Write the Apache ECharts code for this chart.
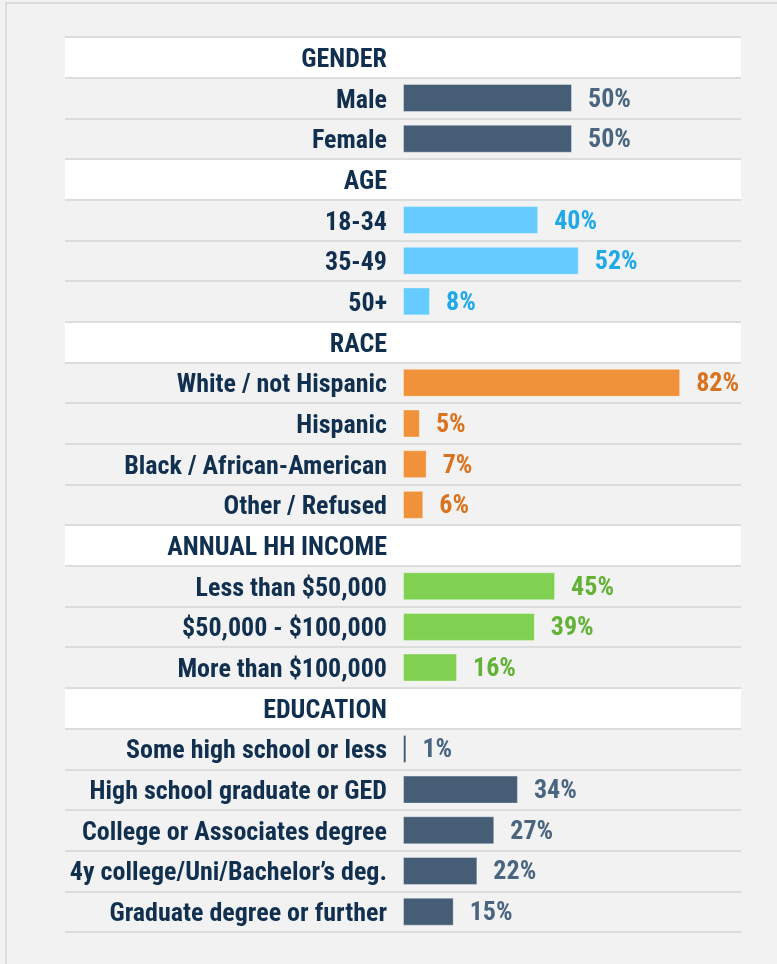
<!DOCTYPE html>
<html>
<head>
<meta charset="utf-8">
<script src="https://cdn.jsdelivr.net/npm/echarts@6/dist/echarts.min.js"></script>
<style>
  html, body { margin: 0; padding: 0; background: #f2f2f2; }
  #frame { position: absolute; left: 5px; top: 2px; width: 772px; height: 962px;
           border-top: 2px solid #dcdcdc; border-left: 2px solid #dcdcdc; box-sizing: border-box; }
  #chart { position: absolute; left: 0; top: 0; width: 777px; height: 964px; }
</style>
</head>
<body>
<div id="frame"></div>
<div id="chart"></div>
<script>
// section headers and their rows
const sections = ['GENDER', 'AGE', 'RACE', 'ANNUAL HH INCOME', 'EDUCATION']

const genderLabels = ['Male', 'Female']
const genderValues = [50, 50]

const ageLabels = ['18-34', '35-49', '50+']
const ageValues = [40, 52, 8]

const raceLabels = ['White / not Hispanic', 'Hispanic', 'Black / African-American', 'Other / Refused']
const raceValues = [82, 5, 7, 6]

const incomeLabels = ['Less than $50,000', '$50,000 - $100,000', 'More than $100,000']
const incomeValues = [45, 39, 16]

const educationLabels = ['Some high school or less', 'High school graduate or GED',
  'College or Associates degree', '4y college/Uni/Bachelor\u2019s deg.', 'Graduate degree or further']
const educationValues = [1, 34, 27, 22, 15]

const groupLabels = [genderLabels, ageLabels, raceLabels, incomeLabels, educationLabels]
const groupValues = [genderValues, ageValues, raceValues, incomeValues, educationValues]
const barColors = ['#455e76', '#66ccff', '#f0923a', '#80d052', '#455e76']
const textColors = ['#4a6580', '#1fa9e6', '#d9731f', '#62b236', '#4a6580']

const FONT = '"Roboto Condensed", "Open Sans Condensed", sans-serif'

let categories = []
let seriesData = []
let rowBg = []

sections.forEach((name, g) => {
  categories.push(name)
  seriesData.push({ value: '-' })
  rowBg.push('#ffffff')
  groupLabels[g].forEach((lab, i) => {
    categories.push(lab)
    rowBg.push('rgba(0,0,0,0)')
    seriesData.push({
      value: groupValues[g][i],
      itemStyle: { color: barColors[g] },
      label: { color: textColors[g] }
    })
  })
})

const chart = echarts.init(document.getElementById('chart'))

chart.setOption({
  animation: false,
  grid: [
    // full-width rows (white headers + separators)
    { left: 65, right: 36, top: 37, bottom: 32, containLabel: false, outerBoundsMode: 'none' },
    // bars
    { left: 403, right: 36, top: 37, bottom: 32, containLabel: false, outerBoundsMode: 'none' }
  ],
  xAxis: [{
    gridIndex: 0,
    type: 'value',
    min: 0,
    max: 100,
    show: false
  }, {
    gridIndex: 1,
    type: 'value',
    min: 0,
    max: 100,
    axisLine: { show: false },
    axisTick: { show: false },
    axisLabel: { show: false },
    splitLine: { show: false }
  }],
  yAxis: [{
    gridIndex: 0,
    type: 'category',
    inverse: true,
    data: categories,
    z: 0,
    axisLine: { show: false },
    axisTick: { show: false },
    axisLabel: { show: false },
    splitLine: {
      show: true,
      interval: 0,
      lineStyle: { color: '#dcdcdc', width: 2 }
    },
    splitArea: {
      show: true,
      interval: 0,
      areaStyle: { color: rowBg }
    }
  }, {
    gridIndex: 1,
    type: 'category',
    inverse: true,
    data: categories,
    axisLine: { show: false },
    axisTick: { show: false },
    axisLabel: {
      interval: 0,
      margin: 16,
      formatter: v => '{t|' + v + '}',
      rich: {
        t: {
          padding: [6, 0, 0, 0],
          fontFamily: FONT,
          fontWeight: 'bold',
          fontSize: 26,
          color: '#11304f'
        }
      }
    },
    splitLine: { show: false }
  }],
  series: [{
    type: 'bar',
    xAxisIndex: 1,
    yAxisIndex: 1,
    barWidth: 28,
    data: seriesData,
    itemStyle: {
      borderColor: 'rgba(255,255,255,0.35)',
      borderWidth: 1
    },
    label: {
      show: true,
      position: 'right',
      distance: 16,
      offset: [0, 2],
      formatter: '{c}%',
      fontFamily: FONT,
      fontWeight: 'bold',
      fontSize: 26
    }
  }]
})
</script>
</body>
</html>
